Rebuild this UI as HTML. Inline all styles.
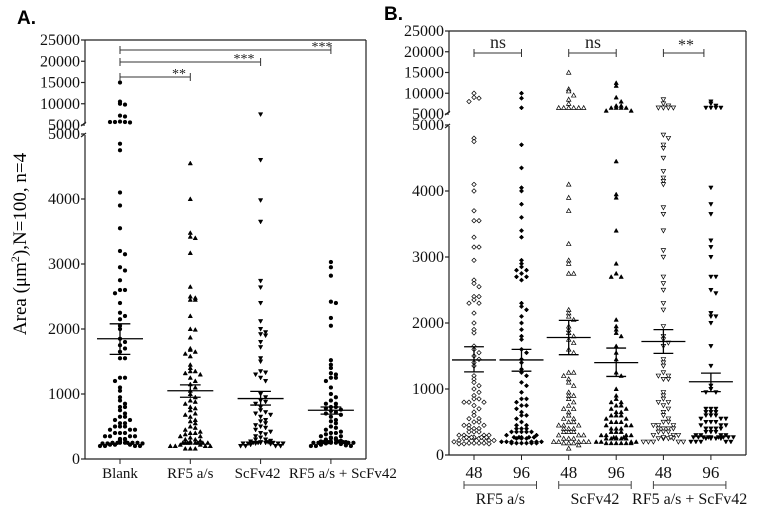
<!DOCTYPE html>
<html><head><meta charset="utf-8">
<style>
html,body{margin:0;padding:0;background:#fff;}
svg{display:block;font-family:"Liberation Serif",serif;}
</style></head>
<body>
<svg id="chart" width="768" height="507" viewBox="0 0 768 507" xmlns="http://www.w3.org/2000/svg">
<text x="17" y="24" font-family="Liberation Sans, sans-serif" font-weight="bold" font-size="19">A.</text>
<text x="384" y="20" font-family="Liberation Sans, sans-serif" font-weight="bold" font-size="19">B.</text>
<text transform="translate(26,244) rotate(-90)" text-anchor="middle" font-size="19">Area (μm<tspan dy="-7" font-size="12">2</tspan><tspan dy="7">),N=100, n=4</tspan></text>
<g id="plots"></g>
</svg>
<script>
// ---------- Panel A data ----------
const catsA = ["Blank","RF5 a/s","ScFv42","RF5 a/s + ScFv42"];
const blankA = [15000,10500,10000,9800,7200,7000,5800,5700,5700,5600,5700,4850,4750,4100,3900,3550,3200,3150,2950,2900,2750,2600,2600,2550,2400,2250,2200,2150,2050,2000,1850,1800,1750,1700,1650,1550,1550,1250,1250,1200,1100,1050,950,900,850,800,800,750,700,650,650,600,600,550,550,500,500,500,450,450,450,400,400,400,350,350,350,350,300,300,250,250,220,220,220,200,200,200,200,200,180,180,180,180,180,170,170,170,170,170];
const rf5A = [4550,4000,3480,3420,3400,3170,2650,2500,2480,2450,2450,2200,2000,1990,1870,1700,1680,1650,1620,1580,1450,1400,1350,1350,1320,1300,1250,1200,1150,1100,1050,1000,950,900,880,850,800,780,750,700,680,650,600,580,550,500,480,450,420,400,400,380,350,350,330,300,300,280,250,250,250,220,220,200,200,200,200,200,180,180,180,180,180,160,160,160];
const scfvA = [7500,4600,3980,3650,2740,2640,2400,2120,2000,1950,1920,1900,1800,1720,1550,1500,1350,1330,1300,1250,1200,1000,950,900,880,850,800,750,720,700,680,650,600,580,550,520,500,480,450,420,400,380,350,330,300,300,280,270,250,250,240,230,220,200,200,200,200,190,190,180,180,180,170,170,170,170];
const comboA = [3030,2950,2820,2420,2400,2170,2050,1520,1450,1400,1320,1300,1250,1250,1200,1100,1000,950,900,850,850,800,800,780,760,740,720,700,680,650,600,580,550,500,480,450,420,400,400,380,350,350,330,300,300,280,270,260,250,250,240,230,220,210,200,200,200,200,200,190,190,190,180,180,180,180,180,180];
const meansA = [1850,1050,930,750];
const semLoA = [1610,950,830,690];
const semHiA = [2080,1140,1040,800];
const lowTicks = [0,1000,2000,3000,4000,5000];
const highTicks = [5000,10000,15000,20000,25000];
// ---------- Panel B data ----------
const timesB = ["48","96","48","96","48","96"];
const groupsB = ["RF5 a/s","ScFv42","RF5 a/s + ScFv42"];
const rf5_48 = [10000,9000,8800,8000,4800,4750,4100,4000,3700,3550,3550,3300,3150,3150,2950,2650,2600,2550,2400,2400,2350,2300,2300,2150,2000,1900,1850,1650,1600,1550,1500,1450,1400,1350,1200,1150,1100,1050,1000,950,900,850,850,800,800,800,750,700,650,600,550,550,500,500,450,450,450,400,400,400,350,350,350,300,300,300,300,250,250,250,250,250,220,220,220,200,200,200,200,200,200,180,180,180,180,170,170,170];
const rf5_96 = [10000,8800,6500,4700,4350,4050,4000,3800,3600,3400,3300,2950,2900,2850,2800,2800,2750,2700,2700,2650,2300,2250,2200,2100,2000,1900,1800,1750,1600,1550,1450,1400,1300,1250,1200,1100,1050,950,850,850,800,750,750,700,650,600,600,550,500,450,450,400,400,400,350,350,350,350,350,300,300,250,250,250,200,200,200,200,200,200,200,200,200,200,200,180,180,180,180,180,180];
const scfv_48 = [15000,11000,10500,9500,8500,7500,6500,6500,6500,6500,6500,6500,4100,3900,3700,3200,2950,2900,2750,2750,2200,2150,2100,2050,1950,1900,1850,1800,1750,1700,1600,1550,1250,1250,1200,1150,1100,1050,950,900,900,850,800,750,700,700,650,600,550,550,500,500,450,450,450,400,400,400,350,350,350,300,300,300,250,250,250,200,200,200,200,200,180,180,180,150,100];
const scfv_96 = [12500,11800,9000,8000,7000,7000,6500,6500,6500,6500,5800,5800,4450,3950,3900,3400,2900,2750,2700,2700,2050,1950,1900,1850,1800,1650,1550,1450,1250,1200,1000,900,850,800,800,750,750,700,700,650,650,600,600,600,550,550,500,500,500,450,450,450,400,400,400,350,350,350,300,300,300,300,250,250,250,250,250,200,200,200,200,200,200,200,180,180,180,180,180,180];
const combo_48 = [8500,7500,7000,6500,6500,6500,6500,4850,4800,4700,4650,4500,4300,4200,4150,4100,3750,3650,3400,3100,3000,2700,2600,2500,2300,2200,1950,1800,1750,1700,1650,1450,1400,1350,1250,1200,1200,1150,1150,950,900,850,800,800,750,700,650,600,550,500,500,450,450,450,400,400,400,400,350,350,350,300,300,300,250,250,250,250,200,200,200,200,200,200,200];
const combo_96 = [8000,7500,7000,6500,6500,6500,6500,4050,3800,3650,3250,3150,3000,2700,2700,2500,2450,2150,2100,2100,2000,1650,1350,1050,1000,950,950,700,700,700,650,650,650,600,600,600,550,550,550,500,500,500,450,450,450,400,400,400,400,350,350,350,300,300,300,300,250,250,250,250,200,200,200,200,200,200,200,200,200,200,200,200,200,200];
const meansB = [1440,1440,1780,1400,1720,1110];
const semLoB = [1260,1270,1520,1190,1540,960];
const semHiB = [1640,1600,2040,1620,1900,1240];

const NS = "http://www.w3.org/2000/svg";
const root = document.getElementById('plots');
function mk(tag, attrs, parent, text){
  const e = document.createElementNS(NS, tag);
  for (const k in attrs) e.setAttribute(k, attrs[k]);
  if (text !== undefined) e.textContent = text;
  (parent || root).appendChild(e);
  return e;
}
function makeY(bot, lowTop, highBot, top){
  return v => v <= 5000 ? bot - v*(bot-lowTop)/5000 : highBot - (v-5000)*(highBot-top)/20000;
}
function marker(g, shape, filled, x, y){
  const s = 2.2, fill = filled ? '#000' : '#fff', st = {fill:fill, stroke:'#000','stroke-width': filled?0.5:0.7};
  let e;
  if (shape==='circle') e = mk('circle', Object.assign({cx:x,cy:y,r:1.9}, st), g);
  else if (shape==='up') e = mk('polygon', Object.assign({points:`${x},${y-s} ${x+s},${y+s*0.8} ${x-s},${y+s*0.8}`}, st), g);
  else if (shape==='down') e = mk('polygon', Object.assign({points:`${x},${y+s} ${x+s},${y-s*0.8} ${x-s},${y-s*0.8}`}, st), g);
  else e = mk('polygon', Object.assign({points:`${x},${y-s} ${x+s},${y} ${x},${y+s} ${x-s},${y}`}, st), g);
  
  
}
function swarm(vals, cx, yf, shape, filled, name){
  const g = mk('g', {});
  
  
  const bins = {};
  const maxPer = 9;
  vals.forEach(v => {
    const y = yf(v);
    const b = Math.round(y/5.5);
    bins[b] = (bins[b]||0) + 1;
    const n = bins[b]-1;
    const k = n % maxPer, row = Math.floor(n / maxPer);
    const off = k===0 ? 0 : (k%2 ? 1 : -1) * Math.ceil(k/2) * 5 + (row%2 ? 2.5 : 0);
    marker(g, shape, filled, cx+off, y - row*4.5);
  });
}
function meanBar(cx, yf, m, lo, hi, w, name){
  const g = mk('g', {stroke:'#000','stroke-width':1.3});
  
  
  mk('line',{x1:cx-w,x2:cx+w,y1:yf(m),y2:yf(m)},g);
  mk('line',{x1:cx,x2:cx,y1:yf(lo),y2:yf(hi)},g);
  mk('line',{x1:cx-w*0.45,x2:cx+w*0.45,y1:yf(lo),y2:yf(lo)},g);
  mk('line',{x1:cx-w*0.45,x2:cx+w*0.45,y1:yf(hi),y2:yf(hi)},g);
}
function axes(x0, x1, bot, lowTop, highBot, top, yf, prefix){
  const g = mk('g',{stroke:'#222','stroke-width':1.2,fill:'none'});
  
  
  mk('line',{x1:x0,x2:x0,y1:bot,y2:lowTop+1},g);
  mk('line',{x1:x0,x2:x0,y1:highBot-1,y2:top},g);
  mk('line',{x1:x0-4,x2:x0+1,y1:lowTop+3,y2:lowTop-1},g);
  mk('line',{x1:x0-4,x2:x0+1,y1:highBot+1,y2:highBot-3},g);
  mk('line',{x1:x0,x2:x1,y1:bot,y2:bot},g);
  mk('line',{x1:x1,x2:x1,y1:bot,y2:top},g);
  mk('line',{x1:x0,x2:x1,y1:top,y2:top},g);
  const tg = mk('g',{'font-size':16,fill:'#111','text-anchor':'end'});
  
  
  lowTicks.forEach(t => { mk('line',{x1:x0-4,x2:x0,y1:yf(t),y2:yf(t),stroke:'#222'},g); mk('text',{x:x0-5,y:yf(t)+5},tg,String(t)); });
  highTicks.forEach(t => { const y = t===5000 ? highBot : yf(t); mk('line',{x1:x0-4,x2:x0,y1:y,y2:y,stroke:'#222'},g); mk('text',{x:x0-5,y:y+5},tg,String(t)); });
}
function bracket(xa, xb, y, label, tx, ty, name, fs){
  const g = mk('g',{stroke:'#333','stroke-width':1});
  
  
  mk('line',{x1:xa,x2:xb,y1:y,y2:y},g);
  mk('line',{x1:xa,x2:xa,y1:y-4,y2:y+4},g);
  mk('line',{x1:xb,x2:xb,y1:y-4,y2:y+4},g);
  mk('text',{x:tx,y:ty,'text-anchor':'middle','font-size':fs||14,fill:'#222',stroke:'none'},g,label);
}

// ---------- Panel A ----------
const yA = makeY(459, 134, 125, 40);
const xA = i => 120 + i*70.3;
axes(85, 366, 459, 134, 125, 40, yA, 'panel-a');
const seriesA = [blankA, rf5A, scfvA, comboA];
const shapesA = ['circle','up','down','circle'];
seriesA.forEach((s,i) => swarm(s, xA(i), yA, shapesA[i], true, 'swarm-a-'+i));
meansA.forEach((m,i) => meanBar(xA(i), yA, m, semLoA[i], semHiA[i], 23, 'mean-sem-a-'+i));
const xlA = mk('g',{'font-size':15,'text-anchor':'middle',fill:'#111'});


catsA.forEach((c,i) => { mk('line',{x1:xA(i),x2:xA(i),y1:459,y2:464,stroke:'#222'}); mk('text',{x:xA(i)+(i===3?12:(i===2?-3:0)),y:478},xlA,c); });
bracket(xA(0), xA(3), 50, '***', 322, 51, 'sig-blank-vs-combo');
bracket(xA(0), xA(2), 62, '***', 244, 63, 'sig-blank-vs-scfv42');
bracket(xA(0), xA(1), 77, '**', 179, 78, 'sig-blank-vs-rf5');

// ---------- Panel B ----------
const yB = makeY(455, 125, 114, 31);
const xB = i => 474 + Math.floor(i/2)*94.7 + (i%2)*47.5;
axes(449, 746, 455, 125, 114, 31, yB, 'panel-b');
const seriesB = [rf5_48, rf5_96, scfv_48, scfv_96, combo_48, combo_96];
const shapesB = ['diamond','diamond','up','up','down','down'];
seriesB.forEach((s,i) => swarm(s, xB(i), yB, shapesB[i], i%2===1, 'swarm-b-'+i));
meansB.forEach((m,i) => meanBar(xB(i), yB, m, semLoB[i], semHiB[i], 22, 'mean-sem-b-'+i));
const xlB = mk('g',{'font-size':17,'text-anchor':'middle',fill:'#111'});


timesB.forEach((t,i) => { mk('line',{x1:xB(i),x2:xB(i),y1:455,y2:460,stroke:'#222'}); mk('text',{x:xB(i),y:478},xlB,t); });
groupsB.forEach((gname,j) => {
  const a = xB(2*j)-10, b = xB(2*j+1)+15;
  const g = mk('g',{stroke:'#444','stroke-width':1});
  
  
  mk('line',{x1:a,x2:b,y1:485,y2:485},g);
  mk('line',{x1:a,x2:a,y1:481,y2:489},g);
  mk('line',{x1:b,x2:b,y1:481,y2:489},g);
  mk('text',{x:(a+b)/2,y:504,'font-size':16,'text-anchor':'middle',fill:'#111',stroke:'none'},g,gname);
});
bracket(xB(0), xB(1), 53, 'ns', 498, 48, 'sig-rf5-48-vs-96', 18);
bracket(xB(2), xB(3), 53, 'ns', 593, 48, 'sig-scfv-48-vs-96', 18);
bracket(xB(4), xB(5)-7, 53, '**', 686, 50, 'sig-combo-48-vs-96', 16);
</script>
</body></html>
